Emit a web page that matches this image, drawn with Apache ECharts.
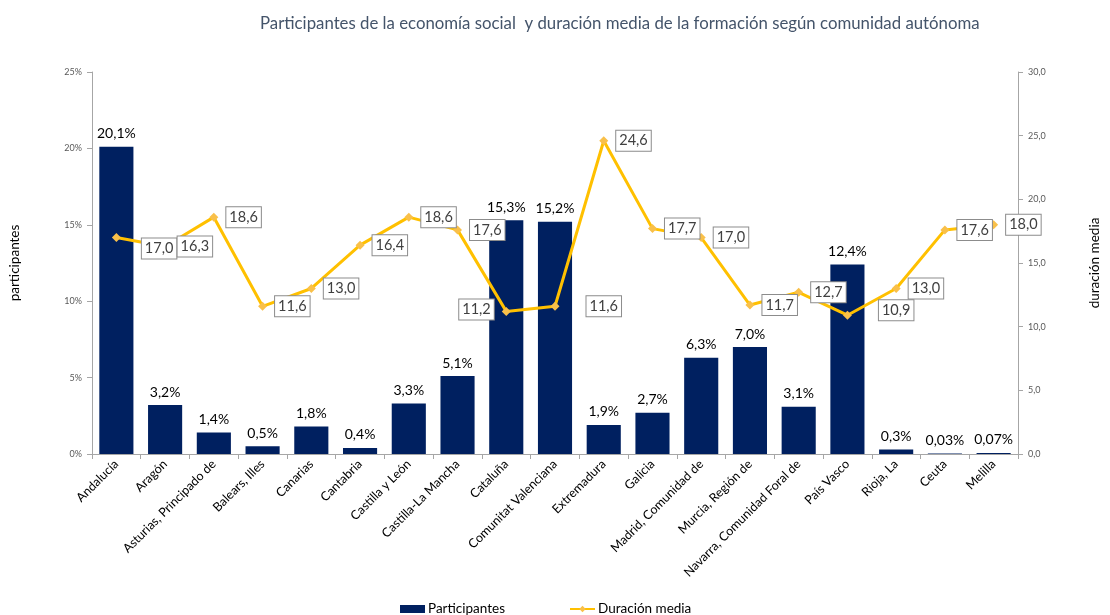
<!DOCTYPE html>
<html><head><meta charset="utf-8">
<script src="https://cdn.jsdelivr.net/npm/echarts@6/dist/echarts.min.js"></script>
<style>html,body{margin:0;padding:0;background:#fff}#c{width:1110px;height:615px}</style>
</head><body><div id="c"></div>
<script>
const categories = ["Andalucía","Aragón","Asturias, Principado de","Balears, Illes","Canarias","Cantabria","Castilla y León","Castilla-La Mancha","Cataluña","Comunitat Valenciana","Extremadura","Galicia","Madrid, Comunidad de","Murcia, Región de","Navarra, Comunidad Foral de","País Vasco","Rioja, La","Ceuta","Melilla"];
const participantes = [20.1,3.2,1.4,0.5,1.8,0.4,3.3,5.1,15.3,15.2,1.9,2.7,6.3,7.0,3.1,12.4,0.3,0.03,0.07];
const duracionMedia = [17.0,16.3,18.6,11.6,13.0,16.4,18.6,17.6,11.2,11.6,24.6,17.7,17.0,11.7,12.7,10.9,13.0,17.6,18.0];
const leftTicks = [0,5,10,15,20,25];
const rightTicks = [0,5,10,15,20,25,30];

const FONT = 'Lato, "Open Sans", sans-serif';
// label placement tweaks (style only)
const lblPos = {0:{dist:21,dy:11},8:{pos:'left',dist:8,dy:-2},9:{dist:27,dy:0},15:{dist:27,dy:-5}};

const lineData = duracionMedia.map((v,i)=>{
  const p = lblPos[i] || {};
  return {value:v,label:{position:p.pos||'right',distance:p.dist!=null?p.dist:8,offset:[0,p.dy||0]}};
});

const chart = echarts.init(document.getElementById('c'));
chart.setOption({
  animation:false,
  textStyle:{fontFamily:FONT},
  title:{text:'Participantes de la economía social  y duración media de la formación según comunidad autónoma',left:255,top:10,
    textStyle:{fontSize:16.8,fontWeight:'normal',color:'#44546A',fontFamily:FONT}},
  grid:{left:90,right:85,top:72,bottom:161},
  legend:{left:395,top:597,itemGap:64,itemWidth:25,itemHeight:8,
    textStyle:{fontSize:13.5,color:'#000',fontFamily:FONT,padding:[0,0,0,-2]},
    data:[{name:'Participantes',icon:'rect'},{name:'Duración media'}]},
  xAxis:{type:'category',data:categories,
    axisLine:{lineStyle:{color:'#A6A6A6'}},
    axisTick:{show:true,alignWithLabel:false,length:5,lineStyle:{color:'#A6A6A6'}},
    axisLabel:{rotate:45,fontSize:12.5,color:'#000',interval:0,margin:8}},
  yAxis:[
    {type:'value',min:0,max:25,interval:5,name:'participantes',nameLocation:'middle',nameGap:70,
     nameTextStyle:{fontSize:13.5,color:'#000'},
     axisLine:{show:true,lineStyle:{color:'#A6A6A6'}},axisTick:{show:true,length:5,lineStyle:{color:'#A6A6A6'}},
     splitLine:{show:false},
     axisLabel:{fontSize:9,color:'#595959',margin:10,formatter:v=>leftTicks.includes(v)?v+'%':''}},
    {type:'value',min:0,max:30,interval:5,name:'duración media',nameLocation:'middle',nameGap:70,
     nameTextStyle:{fontSize:13.5,color:'#000'},
     axisLine:{show:true,lineStyle:{color:'#A6A6A6'}},axisTick:{show:true,length:5,lineStyle:{color:'#A6A6A6'}},
     splitLine:{show:false},
     axisLabel:{fontSize:9,color:'#595959',margin:10,formatter:v=>rightTicks.includes(v)?v.toFixed(1).replace('.',','):''}}
  ],
  series:[
    {name:'Participantes',type:'bar',yAxisIndex:0,data:participantes,barCategoryGap:'30%',
     itemStyle:{color:'#002060'},
     label:{show:true,position:'top',distance:6,fontSize:14,color:'#000',
       formatter:p=>(p.value<0.1?p.value.toFixed(2):p.value.toFixed(1)).replace('.',',')+'%'}},
    {name:'Duración media',type:'line',yAxisIndex:1,data:lineData,
     symbol:'diamond',symbolSize:9,lineStyle:{color:'#FFC000',width:3},
     itemStyle:{color:'#F9C04A'},
     label:{show:true,fontSize:14.5,color:'#404040',backgroundColor:'#fff',borderColor:'#8C8C8C',borderWidth:1,
       padding:[3,3,2,3],formatter:p=>p.value.toFixed(1).replace('.',',')}}
  ]
});
</script></body></html>
